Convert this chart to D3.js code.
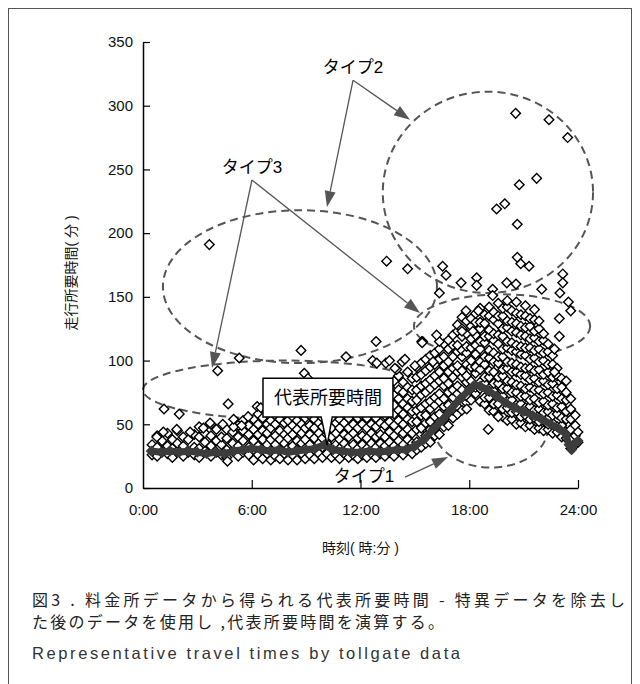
<!DOCTYPE html>
<html>
<head>
<meta charset="utf-8">
<script src="https://cdn.jsdelivr.net/npm/d3@7"></script>
<style>
  html, body { margin: 0; padding: 0; background: #fff; }
  svg { display: block; }
</style>
</head>
<body>
<svg id="chart" width="640" height="684"></svg>
<script>
// ---- 軸 ----
const yTicks = [0, 50, 100, 150, 200, 250, 300, 350];
const xTickHours = [0, 6, 12, 18, 24];
const xTickLabels = ['0:00', '6:00', '12:00', '18:00', '24:00'];

// ---- 代表所要時間 (時, 分) ----
const lineHours = [0.45, 1, 1.5, 2, 2.5, 3, 3.5, 4, 4.5, 5, 5.5, 6, 6.5, 7, 7.5, 8, 8.5, 9, 9.5, 10,
  10.5, 11, 11.5, 12, 12.5, 13, 13.5, 14, 14.5, 15, 15.5, 16, 16.5, 17, 17.5, 18, 18.3, 18.6, 19, 19.5,
  20, 20.5, 21, 21.5, 22, 22.5, 23, 23.3, 23.5, 23.65, 23.8, 24];
const lineValues = [29, 28, 29, 28, 29, 28, 27, 28, 27, 29, 30, 31, 30, 29, 30, 28, 29, 30, 31, 34,
  30, 29, 28, 28, 29, 28, 29, 30, 30, 33, 38, 46, 53, 62, 70, 77, 81, 80, 77, 72,
  67, 63, 60, 57, 54, 50, 46, 43, 34, 30, 35, 37];

// ---- 料金所データ (時刻ごとの所要時間) ----
const obsNight = [
  [0.5, [26, 34]], [0.78, [25, 32, 41]], [1.05, [28, 37]], [1.35, [27, 33, 43]], [1.62, [24, 31, 38]],
  [1.9, [29, 35, 45]], [2.22, [25, 33, 40]], [2.5, [28, 38]], [2.83, [26, 32, 42]], [3.1, [24, 31, 40, 48]],
  [3.42, [29, 36, 43]], [3.75, [25, 33, 41, 50]], [4.05, [28, 37, 46]], [4.33, [26, 34, 40]],
  [4.62, [24, 30, 39, 46]], [4.95, [29, 35, 44]], [5.25, [25, 33, 40, 49]], [5.52, [28, 37, 45, 53]],
  [5.83, [26, 32, 42, 49]]
];
const obsMorning = [
  [6.1, [22, 30, 37, 46, 54]], [6.35, [26, 33, 42, 50, 58]], [6.6, [23, 31, 38, 45, 55]],
  [6.85, [27, 34, 43, 50]], [7.05, [22, 29, 38, 47, 53]], [7.3, [25, 34, 41, 50, 57]],
  [7.55, [23, 30, 38, 45, 54]], [7.8, [27, 35, 42, 51]], [8.0, [22, 31, 39, 46, 53]],
  [8.25, [26, 33, 42, 49, 56]], [8.5, [22, 30, 37, 46, 53]], [8.75, [27, 35, 43, 50]],
  [8.95, [23, 31, 38, 47, 55]], [9.2, [26, 34, 42, 49, 57]], [9.45, [23, 30, 39, 47, 54]],
  [9.7, [27, 35, 43, 51]], [9.9, [24, 32, 39, 48, 55]], [10.15, [27, 35, 42, 50]],
  [10.4, [24, 31, 40, 47, 55]], [10.65, [26, 34, 43, 51]], [10.85, [23, 31, 38, 47, 54]],
  [11.1, [27, 35, 42, 51, 58]], [11.35, [24, 32, 40, 47, 55]], [11.6, [26, 34, 43, 50, 59]],
  [11.85, [23, 31, 39, 47, 55]]
];
const obsAfternoon = [
  [12.1, [26, 34, 41, 50, 57, 64]], [12.35, [24, 31, 39, 47, 55, 62]], [12.6, [27, 35, 43, 50, 59, 68]],
  [12.85, [24, 32, 40, 48, 55, 64, 71]], [13.1, [27, 35, 42, 51, 59, 67]],
  [13.35, [25, 33, 40, 49, 57, 65, 74]], [13.6, [28, 36, 44, 52, 60, 69, 79]],
  [13.85, [25, 33, 41, 49, 58, 65, 73, 84]], [14.1, [29, 37, 45, 53, 61, 70, 77, 88]],
  [14.35, [26, 34, 43, 50, 58, 66, 75, 83]], [14.6, [30, 38, 46, 54, 63, 70, 79, 91]],
  [14.85, [27, 35, 43, 52, 60, 68, 77, 86]], [15.1, [30, 36, 46, 52, 61, 69, 77, 87, 95]],
  [15.35, [32, 42, 47, 57, 63, 73, 80, 89, 98]], [15.6, [35, 41, 51, 57, 66, 75, 82, 92, 101]],
  [15.85, [36, 46, 52, 62, 68, 78, 85, 95, 104]], [16.1, [41, 47, 56, 65, 71, 81, 88, 97, 106]],
  [16.35, [42, 52, 58, 68, 74, 84, 91, 101, 109]], [16.6, [48, 54, 64, 70, 80, 86, 96, 103, 113]],
  [16.85, [49, 59, 65, 75, 82, 91, 99, 109, 116]], [17.1, [55, 61, 71, 77, 87, 94, 103, 112, 120]]
];
const obsEvening = [
  [17.35, [58, 64, 74, 80, 91, 96, 107, 112, 123, 128]],
  [17.6, [61, 71, 77, 87, 92, 103, 108, 119, 125, 134]],
  [17.85, [67, 72, 83, 88, 97, 106, 111, 121, 131]],
  [18.1, [69, 79, 84, 95, 100, 110, 117, 127, 133]],
  [18.35, [74, 79, 90, 95, 105, 112, 120, 130, 137]],
  [18.6, [68, 78, 83, 93, 99, 109, 115, 125, 130, 141]],
  [18.85, [66, 71, 82, 87, 97, 103, 114, 119, 129, 136]],
  [19.1, [61, 71, 76, 87, 92, 102, 108, 119, 124, 135, 142]],
  [19.35, [60, 66, 76, 82, 91, 99, 106, 116, 121, 132, 138]],
  [19.6, [57, 66, 72, 82, 87, 98, 103, 113, 120, 129, 135, 145]],
  [19.85, [56, 62, 72, 78, 88, 93, 103, 109, 119, 125, 135, 141]],
  [20.1, [53, 63, 68, 78, 84, 94, 99, 110, 115, 126, 131, 142, 147]],
  [20.35, [54, 59, 69, 75, 83, 91, 98, 108, 114, 123, 130, 139]],
  [20.6, [50, 60, 65, 75, 81, 91, 97, 107, 112, 122, 129, 137, 146]],
  [20.85, [51, 56, 66, 72, 80, 89, 95, 105, 111, 120, 127, 136]],
  [21.1, [48, 57, 63, 72, 78, 88, 94, 104, 110, 119, 126, 135, 143]],
  [21.35, [49, 54, 64, 69, 79, 85, 94, 101, 110, 117, 127, 133]],
  [21.6, [46, 55, 61, 70, 77, 86, 92, 102, 108, 118, 123, 132, 140]]
];
const obsLate = [
  [21.85, [47, 52, 62, 67, 77, 83, 93, 99, 109, 115, 125, 131]],
  [22.1, [45, 53, 59, 68, 74, 84, 89, 100, 106, 116, 121]],
  [22.35, [46, 50, 60, 65, 75, 81, 91, 97, 107, 113]],
  [22.6, [43, 51, 57, 66, 72, 82, 87, 97, 104]],
  [22.85, [44, 48, 58, 63, 73, 78, 88, 94]],
  [23.1, [40, 49, 55, 64, 70, 79, 86]],
  [23.35, [39, 44, 54, 60, 69, 75, 84]],
  [23.6, [31, 38, 46, 54, 62, 70]],
  [23.85, [34, 41, 49, 57]],
  [24.0, [36, 44]]
];
// 特異データ (時, 分)
const outliers = [
  [20.56, 294], [22.4, 289], [23.43, 275], [21.72, 243], [20.76, 238], [19.96, 223], [19.51, 219],
  [20.65, 207], [20.65, 181], [20.84, 176], [21.3, 174], [13.44, 178], [14.6, 172], [16.53, 174],
  [16.72, 167], [23.16, 168], [3.66, 191], [12.86, 115], [8.72, 108], [5.31, 102], [4.12, 92],
  [11.2, 103], [15.43, 115], [12.67, 100], [13.4, 98], [12.9, 98], [14.3, 99], [15.0, 96], [14.0, 93],
  [8.9, 90], [9.1, 86], [16.0, 99], [13.6, 100], [14.45, 101], [13.9, 94],
  [18.41, 165], [18.41, 159], [17.55, 161], [19.29, 156], [19.29, 151], [20.07, 161], [20.58, 160],
  [22.0, 156], [23.16, 161], [23.0, 153], [23.47, 146], [23.6, 139], [22.97, 133], [22.97, 119],
  [17.82, 139], [18.5, 139], [16.35, 153], [15.38, 115], [16.35, 115], [17.6, 123], [18.2, 123],
  [22.7, 109], [22.7, 91], [19.05, 46], [17.86, 62], [19.6, 56], [15.4, 114], [16.2, 120],
  [1.16, 62], [2.0, 58], [4.7, 66], [6.3, 64], [4.66, 21], [5.8, 56], [0.76, 40], [1.12, 44],
  [1.86, 46], [2.6, 44], [3.33, 47], [3.7, 51], [4.4, 50], [5.0, 48], [5.44, 49], [5.0, 54], [6.5, 63]
];

// ---- 注記 (時, 分) ----
const ellipses = [
  { cx: 19.03, cy: 232, rx: 5.8, ry: 79 },
  { cx: 8.66, cy: 158, rx: 7.56, ry: 60 },
  { cx: 7.83, cy: 77, rx: 7.83, ry: 23 },
  { cx: 19.81, cy: 127, rx: 4.86, ry: 25 },
  { cx: 19.2, cy: 47, rx: 3.14, ry: 31 }
];
const typeLabels = [
  { text: 'タイプ2', at: [11.59, 330], from: [11.59, 320], to: [[14.73, 289], [10.15, 220.5]] },
  { text: 'タイプ3', at: [6.01, 252], from: [6.01, 241.7], to: [[3.81, 94.2], [15.28, 137.3]] },
  { text: 'タイプ1', at: [12.19, 9.4], from: [14.46, 8.6], to: [[16.83, 24.3]] }
];

const svg = d3.select('#chart');
const x = d3.scaleLinear().domain([0, 24]).range([143, 578]);
const y = d3.scaleLinear().domain([0, 350]).range([488, 42]);
const latin = '"Liberation Sans", Arial, Helvetica, sans-serif';
const jp = '"Liberation Sans", "Noto Sans CJK JP", sans-serif';

// 外枠
svg.append('rect')
  .attr('x', 8.5).attr('y', 8.5).attr('width', 623).attr('height', 700)
  .attr('fill', 'none').attr('stroke', '#555').attr('stroke-width', 1);

// 楕円 (データの下)
svg.append('g').selectAll('ellipse').data(ellipses).join('ellipse')
  .attr('cx', d => x(d.cx)).attr('cy', d => y(d.cy))
  .attr('rx', d => x(d.cx + d.rx) - x(d.cx))
  .attr('ry', d => y(0) - y(d.ry))
  .attr('fill', 'none').attr('stroke', '#555').attr('stroke-width', 2)
  .attr('stroke-dasharray', '8,5');

// 散布図
const points = [];
[obsNight, obsMorning, obsAfternoon, obsEvening, obsLate].forEach(block => {
  block.forEach(([h, vals]) => vals.forEach(v => points.push([h, v])));
});
outliers.forEach(p => points.push(p));

const diamond = d3.symbol(d3.symbolSquare, 46);
svg.append('g').selectAll('path').data(points).join('path')
  .attr('d', diamond)
  .attr('transform', d => `translate(${x(d[0])},${y(d[1])}) rotate(45)`)
  .attr('fill', '#fff').attr('stroke', '#000').attr('stroke-width', 1.4);

// 代表所要時間
const lineData = lineHours.map((h, i) => [h, lineValues[i]]);
svg.append('path')
  .datum(lineData)
  .attr('d', d3.line().x(d => x(d[0])).y(d => y(d[1])))
  .attr('fill', 'none').attr('stroke', '#3c3c3c').attr('stroke-width', 7)
  .attr('stroke-linejoin', 'round');
svg.append('g').selectAll('path').data(lineData).join('path')
  .attr('d', d3.symbol(d3.symbolSquare, 60))
  .attr('transform', d => `translate(${x(d[0])},${y(d[1])}) rotate(45)`)
  .attr('fill', '#3c3c3c');

// 軸
const yAxis = svg.append('g').attr('transform', `translate(${x(0)},0)`)
  .call(d3.axisLeft(y).tickValues(yTicks).tickSizeInner(-7).tickSizeOuter(0).tickPadding(10));
const xAxis = svg.append('g').attr('transform', `translate(0,${y(0)})`)
  .call(d3.axisBottom(x).tickValues(xTickHours).tickFormat((d, i) => xTickLabels[i])
    .tickSizeInner(-8).tickSizeOuter(0).tickPadding(16));
[yAxis, xAxis].forEach(g => {
  g.select('.domain').attr('stroke', '#000').attr('stroke-width', 1.5);
  g.selectAll('.tick line').attr('stroke', '#000').attr('stroke-width', 1.2);
  g.selectAll('.tick text').attr('font-family', latin).attr('font-size', 15).attr('fill', '#111');
});
xAxis.select('.tick line').remove();

// タイプ注記と矢印
const ann = svg.append('g');
function arrow(from, to) {
  const x1 = x(from[0]), y1 = y(from[1]), x2 = x(to[0]), y2 = y(to[1]);
  const a = Math.atan2(y2 - y1, x2 - x1);
  const L = 16, hw = 5.5;
  const bx = x2 - L * Math.cos(a), by = y2 - L * Math.sin(a);
  ann.append('line').attr('x1', x1).attr('y1', y1).attr('x2', bx).attr('y2', by)
    .attr('stroke', '#555').attr('stroke-width', 1.3);
  ann.append('path')
    .attr('d', `M${x2},${y2}L${bx + hw * Math.sin(a)},${by - hw * Math.cos(a)}L${bx - hw * Math.sin(a)},${by + hw * Math.cos(a)}Z`)
    .attr('fill', '#555');
}
typeLabels.forEach(t => {
  t.to.forEach(end => arrow(t.from, end));
  ann.append('text')
    .attr('x', x(t.at[0])).attr('y', y(t.at[1]) + 6)
    .attr('text-anchor', 'middle')
    .attr('font-family', jp).attr('font-size', 17).attr('fill', '#000')
    .text(t.text);
});

// 代表所要時間の吹き出し
const bx0 = x(6.62), bx1 = x(13.79), by0 = y(86.2), by1 = y(55.7);
const tipX = x(10.16), tipY = y(33.7), nL = x(9.83), nR = x(10.44);
svg.append('path')
  .attr('d', `M${bx0},${by0}H${bx1}V${by1}H${nR}L${tipX},${tipY}L${nL},${by1}H${bx0}Z`)
  .attr('fill', '#fff').attr('stroke', '#000').attr('stroke-width', 1.5);
svg.append('text')
  .attr('x', (bx0 + bx1) / 2).attr('y', (by0 + by1) / 2 + 6.5)
  .attr('text-anchor', 'middle')
  .attr('font-family', '"Noto Sans CJK JP", sans-serif').attr('font-size', 18).attr('fill', '#000')
  .text('代表所要時間');

// 軸タイトル
svg.append('text')
  .attr('transform', `translate(71,${(y(0) + y(350)) / 2 + 8}) rotate(-90)`)
  .attr('text-anchor', 'middle').attr('dy', '0.35em')
  .attr('font-family', jp).attr('font-size', 14).attr('fill', '#111')
  .text('走行所要時間( 分 )');
svg.append('text')
  .attr('x', (x(0) + x(24)) / 2).attr('y', 553)
  .attr('text-anchor', 'middle')
  .attr('font-family', jp).attr('font-size', 14).attr('fill', '#111')
  .text('時刻( 時:分 )');

// キャプション
const capFont = '"Noto Sans CJK JP", sans-serif';
svg.append('text')
  .attr('x', 32).attr('y', 606).attr('textLength', 593).attr('lengthAdjust', 'spacing')
  .attr('font-family', capFont).attr('font-size', 16).attr('fill', '#222')
  .text('図3 . 料金所データから得られる代表所要時間 - 特異データを除去し');
svg.append('text')
  .attr('x', 32).attr('y', 628).attr('textLength', 412).attr('lengthAdjust', 'spacing')
  .attr('font-family', capFont).attr('font-size', 16).attr('fill', '#222')
  .text('た後のデータを使用し ,代表所要時間を演算する。');
svg.append('text')
  .attr('x', 32).attr('y', 659).attr('textLength', 428).attr('lengthAdjust', 'spacing')
  .attr('font-family', latin).attr('font-size', 16.5).attr('fill', '#333')
  .text('Representative travel times by tollgate data');
</script>
</body>
</html>
